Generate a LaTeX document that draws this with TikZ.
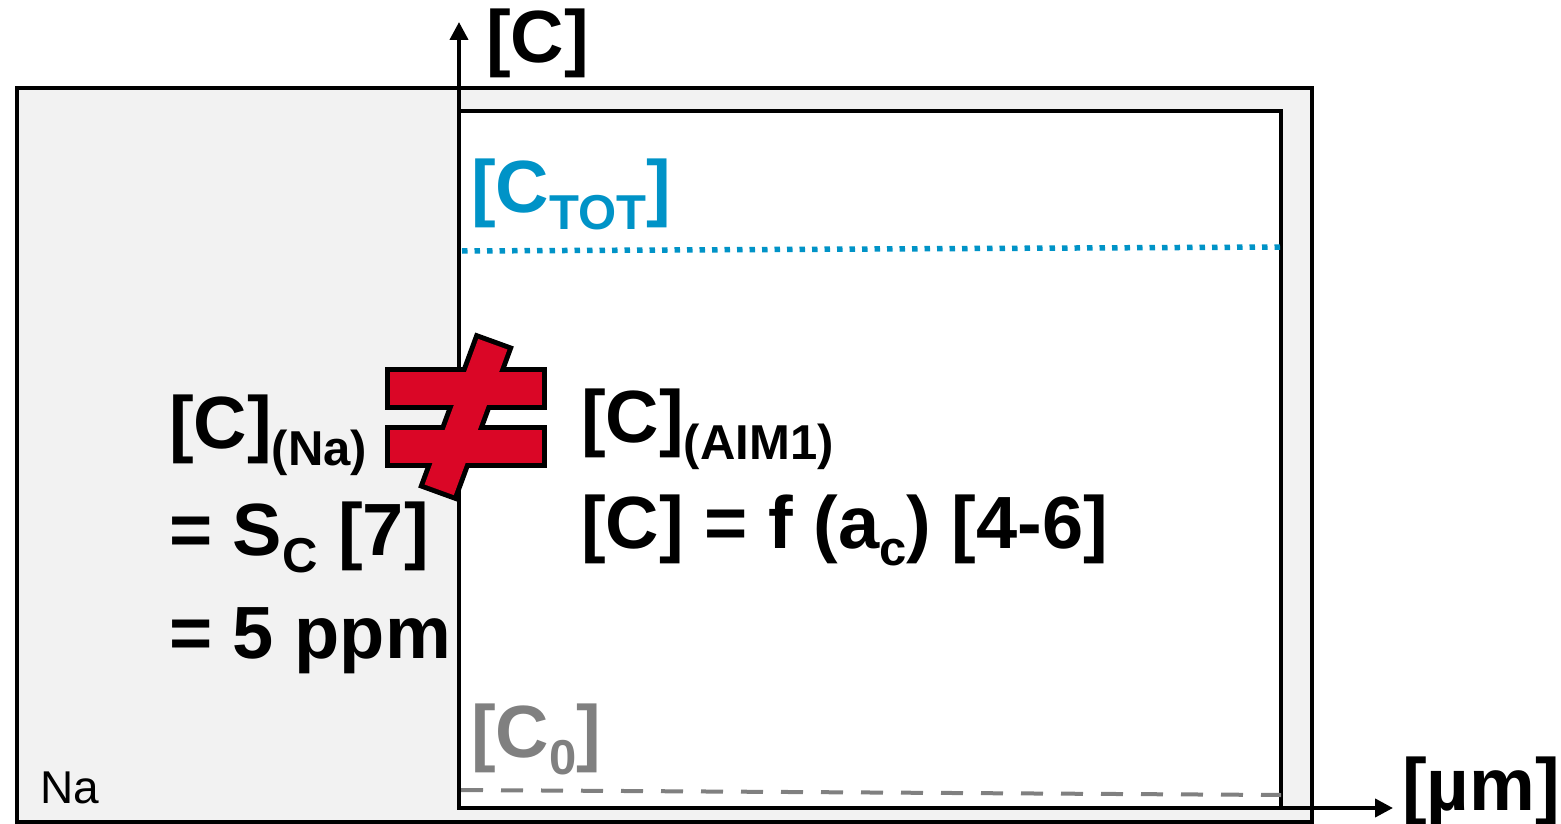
\documentclass[tikz,border=0pt]{standalone}
\usepackage{fontspec}
\setmainfont{Liberation Sans}
\usetikzlibrary{arrows.meta}
\definecolor{ctotblue}{RGB}{0,147,199}
\definecolor{neqred}{RGB}{218,6,38}
\definecolor{nagray}{RGB}{242,242,242}
\definecolor{czerogray}{RGB}{128,128,128}
\newcommand{\lowidx}[1]{\raisebox{-17pt}{\fontsize{49}{49}\selectfont #1}}
\begin{document}
\begin{tikzpicture}[line join=miter,>={Triangle[length=18pt,width=18pt]},x=1pt,y=-1pt,
  big/.style={anchor=base west,inner sep=0pt,font=\fontsize{74}{80}\selectfont\bfseries},
  neqline/.style={draw=black,line width=10pt},
  neqfill/.style={fill=neqred}]
\useasboundingbox (0,0) rectangle (1561,824);
\draw[line width=3.5pt,fill=nagray] (17,88) rectangle (1312,822);
\draw[line width=4pt,fill=white] (459,111) rectangle (1281,808);
\coordinate (o) at (459,808);
\coordinate (ytip) at (459,22);
\coordinate (xtip) at (1393,808);
\draw[ctotblue,line width=5.5pt,dash pattern=on 5.5pt off 7pt] (462,251) -- (1281,247);
\draw[czerogray,line width=4pt,dash pattern=on 22pt off 18pt] (461,790) -- (1281,795);
\draw[line width=4pt,->] (o) -- (ytip);
\draw[line width=4pt,->] (o) -- (xtip);
\node[big] (ylab) at (486,63) {[C]};
\node[big,ctotblue] (ctot) at (471,212) {[C\lowidx{TOT}]};
\node[big,czerogray] (czero) at (471,757) {[C\lowidx{0}]};
\node[big] (xlab) at (1402,810) {[µm]};
\node[anchor=base west,inner sep=0pt,font=\fontsize{46}{50}\selectfont] (na) at (40,803) {Na};
\node[big] (cna) at (169,448) {[C]\lowidx{(Na)}};
\node[big] (sc) at (169,555) {= S\lowidx{C} [7]};
\node[big] (ppm) at (169,658) {= 5 ppm};
\node[big] (caim) at (581,442) {[C]\lowidx{(AIM1)}};
\node[big] (cf) at (581,548) {[C] = f (a\lowidx{c}) [4-6]};
\foreach \st in {neqline,neqfill}{
  \path[\st] (390,372) rectangle (542,405);
  \path[\st] (390,430) rectangle (542,463);
  \path[\st] (478.2,338.9) -- (507.4,349.5) -- (453.8,495.1) -- (424.6,484.5) -- cycle;
}
\end{tikzpicture}
\end{document}
